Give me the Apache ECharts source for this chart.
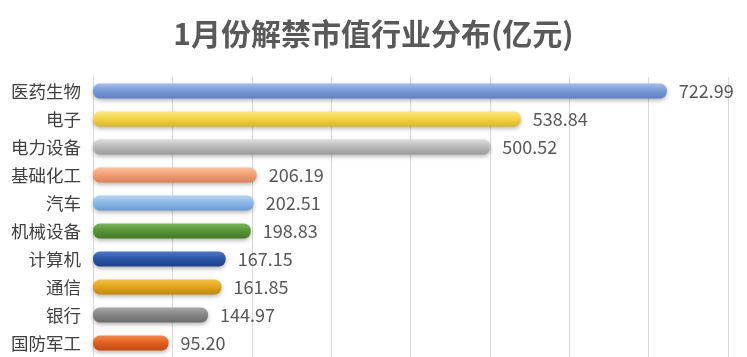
<!DOCTYPE html>
<html><head><meta charset="utf-8">
<script src="https://cdn.jsdelivr.net/npm/echarts@6/dist/echarts.min.js"></script>
<style>html,body{margin:0;padding:0;background:#fff}#c{width:747px;height:357px}</style>
</head><body><div id="c"></div>
<script>
const title = '1月份解禁市值行业分布(亿元)';
const categories = ['医药生物','电子','电力设备','基础化工','汽车','机械设备','计算机','通信','银行','国防军工'];
const values = [722.99, 538.84, 500.52, 206.19, 202.51, 198.83, 167.15, 161.85, 144.97, 95.20];
const barColors = [
  ['#a6bdea','#7b9bd8','#5f7fc0'],
  ['#fbe88a','#f6d547','#d8b52a'],
  ['#dcdcdc','#bdbdbd','#9a9a9a'],
  ['#fbc3a2','#f4a075','#d9825a'],
  ['#b8d4f2','#8db9e8','#6a9ad0'],
  ['#7fb65e','#5b963a','#427a26'],
  ['#4f78c4','#2e57a8','#1d4088'],
  ['#f2c24a','#e2a61c','#c08a10'],
  ['#a8a8a8','#888888','#6a6a6a'],
  ['#f2894e','#e4611f','#c04a12']
];
const chart = echarts.init(document.getElementById('c'));
chart.setOption({
  backgroundColor: '#fff',
  title: {text: title, left: 'center', top: 14,
    textStyle: {fontFamily: 'Noto Sans CJK SC', fontSize: 30, fontWeight: 'bold', color: '#595959'}},
  grid: {left: 93, right: 19, top: 77, bottom: 0},
  xAxis: {type: 'value', min: 0, max: 800, interval: 100,
    axisLabel: {show: false}, axisLine: {show: false}, axisTick: {show: false},
    splitLine: {show: true, lineStyle: {color: '#d9d9d9', width: 1}}},
  yAxis: {type: 'category', data: categories, inverse: true,
    axisLine: {show: true, lineStyle: {color: '#d9d9d9'}}, axisTick: {show: false},
    axisLabel: {fontFamily: 'Noto Sans CJK SC', fontSize: 17.5, color: '#404040', margin: 12}},
  series: [{
    type: 'bar', barWidth: 15,
    data: values.map((v, i) => ({value: v, itemStyle: {
      color: new echarts.graphic.LinearGradient(0, 0, 0, 1, [
        {offset: 0, color: barColors[i][0]},
        {offset: 0.45, color: barColors[i][1]},
        {offset: 1, color: barColors[i][2]}]),
      borderRadius: 7, shadowColor: 'rgba(0,0,0,0.3)', shadowBlur: 4, shadowOffsetY: 2}})),
    label: {show: true, position: 'right', distance: 12,
      formatter: p => p.value.toFixed(2),
      fontFamily: 'Noto Sans CJK SC', fontSize: 18, color: '#595959'}
  }]
});
</script></body></html>
